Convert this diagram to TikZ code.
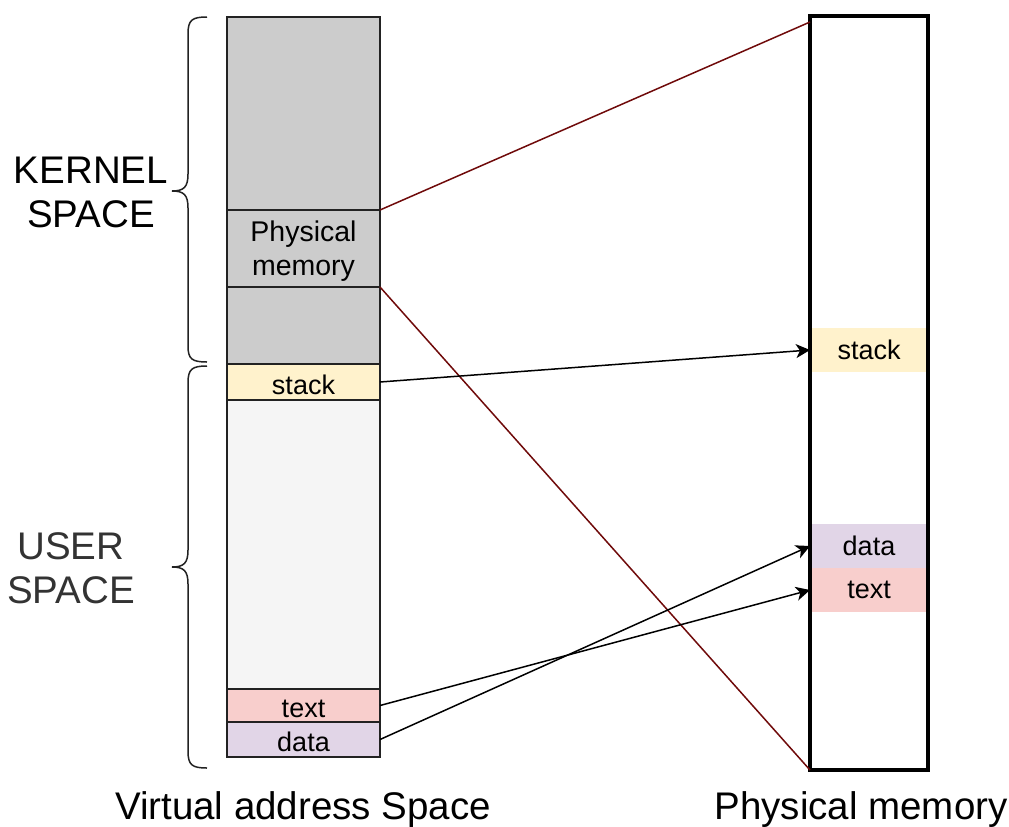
\documentclass[tikz,border=0pt]{standalone}
\usepackage{fontspec}
\setmainfont{Liberation Sans}
\usetikzlibrary{arrows.meta}

\definecolor{kernelgray}{HTML}{CCCCCC}
\definecolor{usergray}{HTML}{F5F5F5}
\definecolor{stackfill}{HTML}{FFF2CC}
\definecolor{textfill}{HTML}{F8CECC}
\definecolor{datafill}{HTML}{E1D5E7}
\definecolor{maplink}{HTML}{6F0A0A}
\definecolor{labelgray}{HTML}{333333}
\definecolor{edge}{HTML}{222222}

\tikzset{
  seg/.style={draw=edge, line width=1.3pt, minimum width=153pt, inner sep=0pt, outer sep=0pt,
              font=\fontsize{27}{34}\selectfont, align=center},
  onelabel/.style={text height=24pt, text depth=0pt},
  pseg/.style={minimum width=118pt, minimum height=44pt, inner sep=0pt, outer sep=0pt,
               font=\fontsize{27}{34}\selectfont},
  bigtext/.style={font=\fontsize{38.5}{44}\selectfont, align=center, inner sep=0pt},
  maparrow/.style={draw=black, line width=1.5pt, -{Stealth[length=14pt,width=14pt,inset=4pt]}},
  mapline/.style={draw=maplink, line width=1.5pt},
  bracket/.style={draw=edge, line width=1.5pt},
}

\begin{document}
\begin{tikzpicture}[x=1pt,y=-1pt]
\useasboundingbox (0,0) rectangle (1009,827);

% virtual address space column
\node[seg, fill=kernelgray, minimum height=193pt] (k1) at (303.5,113.5) {};
\node[seg, fill=kernelgray, minimum height=77pt, text depth=0pt,
      font=\fontsize{28.5}{34}\selectfont] (pm) at (303.5,248.5) {Physical\\memory};
\node[seg, fill=kernelgray, minimum height=77pt] (k2) at (303.5,325.5) {};
\node[seg, onelabel, fill=stackfill, minimum height=36pt] (vstack) at (303.5,382) {stack};
\node[seg, fill=usergray, minimum height=289pt] (user) at (303.5,544.5) {};
\node[seg, onelabel, fill=textfill, minimum height=33pt] (vtext) at (303.5,705.5) {text};
\node[seg, onelabel, fill=datafill, minimum height=35pt] (vdata) at (303.5,739.5) {data};

% physical memory column
\node[pseg, fill=stackfill] (pstack) at (869,350) {stack};
\node[pseg, fill=datafill] (pdata) at (869,546) {data};
\node[pseg, fill=textfill] (ptext) at (869,590) {text};
\node[draw=black, line width=4pt, minimum width=118pt, minimum height=754pt,
      inner sep=0pt, outer sep=0pt] (phys) at (869,393) {};

% braces
\draw[bracket] (207,17) .. controls (192,17) and (188,20) .. (188,34)
  -- (188,174) .. controls (188,187) and (184,191) .. (172,191)
  .. controls (184,191) and (188,195) .. (188,208)
  -- (188,346) .. controls (188,359) and (192,362) .. (207,362);
\draw[bracket] (207,366) .. controls (192,366) and (188,369) .. (188,383)
  -- (188,550) .. controls (188,563) and (184,567) .. (172,567)
  .. controls (184,567) and (188,571) .. (188,584)
  -- (188,751) .. controls (188,765) and (192,768) .. (207,768);

% side labels
\node[bigtext] (kernel) at (91,192) {KERNEL\\SPACE};
\node[bigtext, text=labelgray] (userlbl) at (71,568) {USER\\SPACE};

% column captions
\node[bigtext, anchor=base] (vcap) at (303,819) {Virtual address Space};
\node[bigtext, anchor=base] (pcap) at (861,819) {Physical memory};

% kernel window onto physical memory
\draw[mapline] (pm.north east) -- ([yshift=-6pt]phys.north west);
\draw[mapline] (pm.south east) -- (phys.south west);

% user mappings
\draw[maparrow] (vstack.east) -- (pstack.west);
\draw[maparrow] (vtext.east) -- (ptext.west);
\draw[maparrow] (vdata.east) -- (pdata.west);
\end{tikzpicture}
\end{document}
